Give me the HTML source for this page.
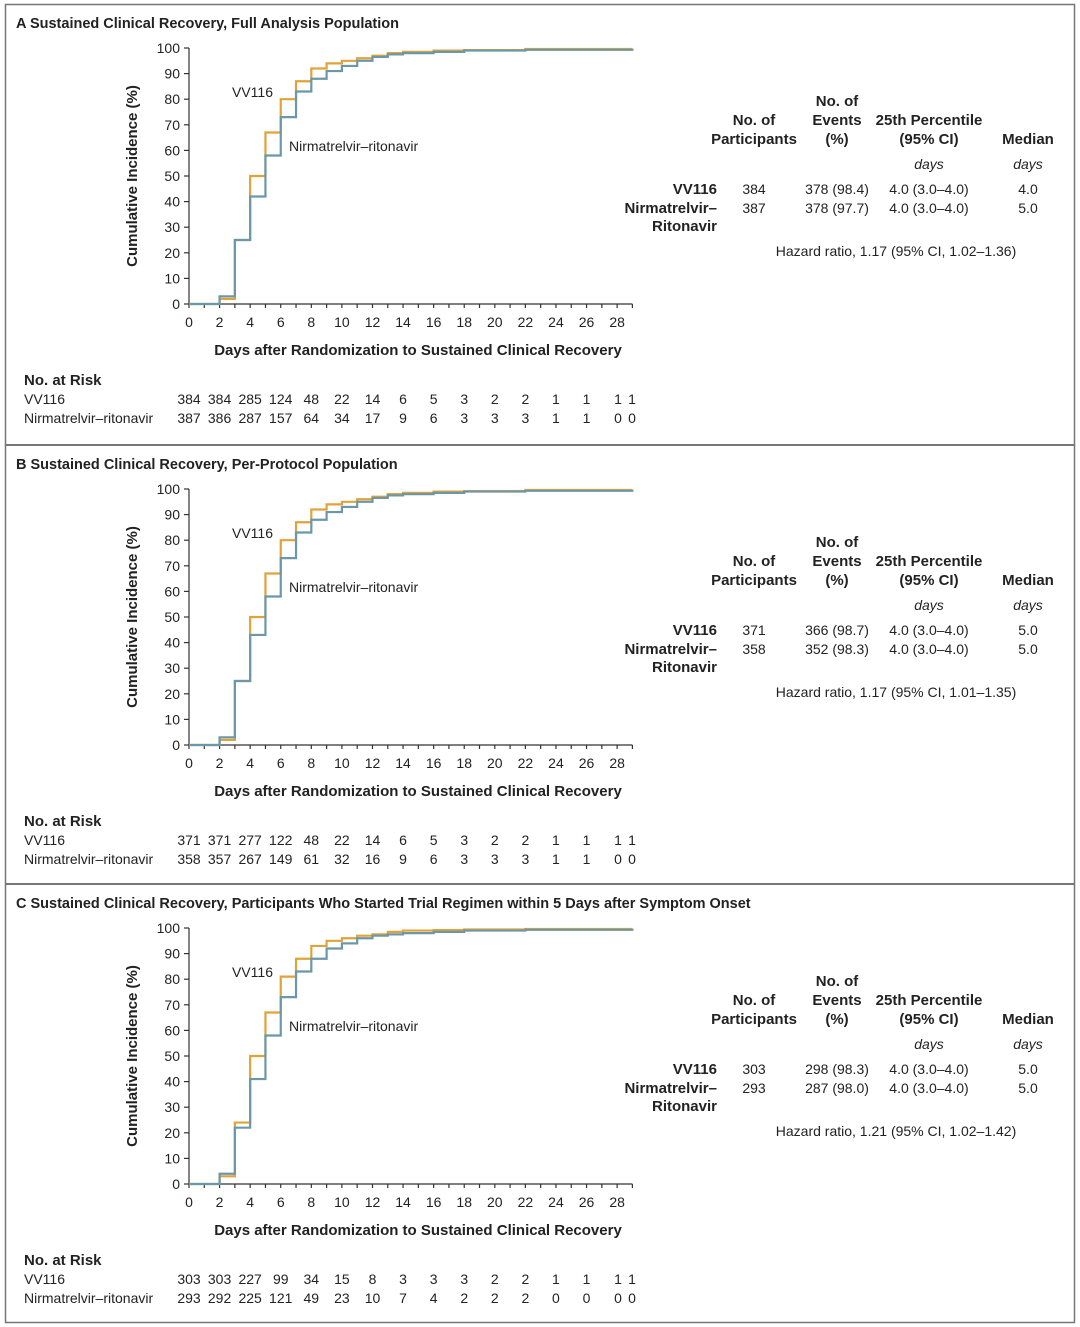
<!DOCTYPE html>
<html><head><meta charset="utf-8">
<style>
html,body{margin:0;padding:0;background:#fff;}
svg{display:block;font-family:"Liberation Sans",sans-serif;}
text{fill:#222;}
</style></head>
<body>
<svg id="chart" width="1080" height="1327" viewBox="0 0 1080 1327" xmlns="http://www.w3.org/2000/svg"></svg>
<script>
const panelLetters = ["A","B","C"];
const panelTitles = ["Sustained Clinical Recovery, Full Analysis Population","Sustained Clinical Recovery, Per-Protocol Population","Sustained Clinical Recovery, Participants Who Started Trial Regimen within 5 Days after Symptom Onset"];
const stepDays = [0,2,3,4,5,6,7,8,9,10,11,12,13,14,16,18,22,29];
const vvA = [0,2,25,50,67,80,87,92,94,95,96,97,98,98.5,99,99.2,99.6,99.8];
const nrA = [0,3,25,42,58,73,83,88,91,93,95,96.5,97.5,98,98.5,99,99.3,99.5];
const vvB = [0,2,25,50,67,80,87,92,94,95,96,97,98,98.5,99,99.2,99.6,99.8];
const nrB = [0,3,25,43,58,73,83,88,91,93,95,96.5,97.5,98,98.5,99,99.3,99.5];
const vvC = [0,3,24,50,67,81,88,93,95,96,97,97.5,98.5,99,99.2,99.4,99.6,99.8];
const nrC = [0,4,22,41,58,73,83,88,92,94,96,97,97.5,98,98.5,99,99.3,99.5];
const xTicks = [0,2,4,6,8,10,12,14,16,18,20,22,24,26,28];
const yTicks = [0,10,20,30,40,50,60,70,80,90,100];
const riskVV = [["384","384","285","124","48","22","14","6","5","3","2","2","1","1","1","1"],["371","371","277","122","48","22","14","6","5","3","2","2","1","1","1","1"],["303","303","227","99","34","15","8","3","3","3","2","2","1","1","1","1"]];
const riskNR = [["387","386","287","157","64","34","17","9","6","3","3","3","1","1","0","0"],["358","357","267","149","61","32","16","9","6","3","3","3","1","1","0","0"],["293","292","225","121","49","23","10","7","4","2","2","2","0","0","0","0"]];
const tblVV = [["384","378 (98.4)","4.0 (3.0–4.0)","4.0"],["371","366 (98.7)","4.0 (3.0–4.0)","5.0"],["303","298 (98.3)","4.0 (3.0–4.0)","5.0"]];
const tblNR = [["387","378 (97.7)","4.0 (3.0–4.0)","5.0"],["358","352 (98.3)","4.0 (3.0–4.0)","5.0"],["293","287 (98.0)","4.0 (3.0–4.0)","5.0"]];
const hazards = ["Hazard ratio, 1.17 (95% CI, 1.02–1.36)","Hazard ratio, 1.17 (95% CI, 1.01–1.35)","Hazard ratio, 1.21 (95% CI, 1.02–1.42)"];
const vvSeries=[vvA,vvB,vvC], nrSeries=[nrA,nrB,nrC];
const offsets=[0,441,880];
const NS="http://www.w3.org/2000/svg";
const svg=document.getElementById('chart');
function el(tag,attrs,parent,txt){const e=document.createElementNS(NS,tag);for(const k in attrs)e.setAttribute(k,attrs[k]);if(txt!==undefined)e.textContent=txt;(parent||svg).appendChild(e);return e;}
const X=d=>189+d*15.29;
const ORANGE="#e2a23a", BLUE="#6b98a8";
const frame=el('rect',{x:5.5,y:4.5,width:1069,height:1318,fill:'none',stroke:'#777','stroke-width':1.5});


[445,884].forEach(y=>{const l=el('line',{x1:5,x2:1075,y1:y,y2:y,stroke:'#777','stroke-width':2});});
offsets.forEach((o,p)=>{
  const g=el('g',{});
  
  
  const Y=v=>o+304-v*2.56;
  const t=el('text',{x:16,y:o+28,'font-size':14.5,'font-weight':'bold'},g);
  
  
  el('tspan',{},t,panelLetters[p]+"  ");
  el('tspan',{},t,panelTitles[p]);
  const ax=el('g',{stroke:'#333','stroke-width':1.2},g);
  
  
  el('line',{x1:189,x2:189,y1:Y(100),y2:Y(0)},ax);
  el('line',{x1:189,x2:X(29),y1:Y(0),y2:Y(0)},ax);
  for(let d=0;d<=29;d++) el('line',{x1:X(d),x2:X(d),y1:Y(0),y2:Y(0)+4},ax);
  yTicks.forEach(v=>el('line',{x1:184,x2:189,y1:Y(v),y2:Y(v)},ax));
  yTicks.forEach(v=>{const tl=el('text',{x:180,y:Y(v)+5,'font-size':14,'text-anchor':'end'},g,v);});
  xTicks.forEach(d=>{const tl=el('text',{x:X(d),y:o+327,'font-size':14,'text-anchor':'middle'},g,d);});
  const yt=el('text',{x:0,y:0,'font-size':15,'font-weight':'bold','text-anchor':'middle',transform:`translate(137,${o+176}) rotate(-90)`},g,"Cumulative Incidence (%)");
  
  const xt=el('text',{x:418,y:o+355,'font-size':15,'font-weight':'bold','text-anchor':'middle'},g,"Days after Randomization to Sustained Clinical Recovery");
  
  function path(vals){let d=`M${X(stepDays[0])},${Y(vals[0])}`;for(let i=1;i<stepDays.length;i++){d+=` H${X(stepDays[i])} V${Y(vals[i])}`;}return d;}
  const po=el('path',{d:path(vvSeries[p]),fill:'none',stroke:ORANGE,'stroke-width':2.2},g);
  
  const pb=el('path',{d:path(nrSeries[p]),fill:'none',stroke:BLUE,'stroke-width':2.2},g);
  
  const l1=el('text',{x:232,y:o+97,'font-size':14},g,"VV116");
  const l2=el('text',{x:289,y:o+151,'font-size':14},g,"Nirmatrelvir–ritonavir");
  const tb=el('g',{'font-size':15},g);
  
  el('text',{x:837,y:o+106,'text-anchor':'middle','font-weight':'bold'},tb,"No. of");
  el('text',{x:754,y:o+125,'text-anchor':'middle','font-weight':'bold'},tb,"No. of");
  el('text',{x:837,y:o+125,'text-anchor':'middle','font-weight':'bold'},tb,"Events");
  el('text',{x:929,y:o+125,'text-anchor':'middle','font-weight':'bold'},tb,"25th Percentile");
  el('text',{x:754,y:o+144,'text-anchor':'middle','font-weight':'bold'},tb,"Participants");
  el('text',{x:837,y:o+144,'text-anchor':'middle','font-weight':'bold'},tb,"(%)");
  el('text',{x:929,y:o+144,'text-anchor':'middle','font-weight':'bold'},tb,"(95% CI)");
  el('text',{x:1028,y:o+144,'text-anchor':'middle','font-weight':'bold'},tb,"Median");
  el('text',{x:929,y:o+169,'text-anchor':'middle','font-style':'italic','font-size':14},tb,"days");
  el('text',{x:1028,y:o+169,'text-anchor':'middle','font-style':'italic','font-size':14},tb,"days");
  el('text',{x:717,y:o+194,'text-anchor':'end','font-weight':'bold'},tb,"VV116");
  el('text',{x:717,y:o+213,'text-anchor':'end','font-weight':'bold'},tb,"Nirmatrelvir–");
  el('text',{x:717,y:o+231,'text-anchor':'end','font-weight':'bold'},tb,"Ritonavir");
  const cx=[754,837,929,1028];
  [tblVV[p],tblNR[p]].forEach((row,r)=>row.forEach((c,i)=>el('text',{x:cx[i],y:o+194+r*19,'text-anchor':'middle','font-size':14},tb,c)));
  el('text',{x:896,y:o+256,'text-anchor':'middle','font-size':14},tb,hazards[p]);
  const rk=el('g',{'font-size':14},g);
  
  el('text',{x:24,y:o+385,'font-weight':'bold','font-size':15},rk,"No. at Risk");
  el('text',{x:24,y:o+404},rk,"VV116");
  el('text',{x:24,y:o+423},rk,"Nirmatrelvir–ritonavir");
  const rx=i=>i<15?X(i*2):632;
  const rx2=i=>i===14?618:rx(i);
  riskVV[p].forEach((v,i)=>el('text',{x:rx2(i),y:o+404,'text-anchor':'middle'},rk,v));
  riskNR[p].forEach((v,i)=>el('text',{x:rx2(i),y:o+423,'text-anchor':'middle'},rk,v));
});
</script>
</body></html>
